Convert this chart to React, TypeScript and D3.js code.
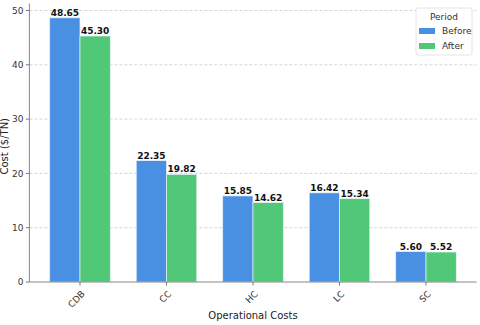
import React from 'react';
import * as d3 from 'd3';

const categories = ['CDB', 'CC', 'HC', 'LC', 'SC'];
const before = [48.65, 22.35, 15.85, 16.42, 5.6];
const after = [45.3, 19.82, 14.62, 15.34, 5.52];
const yTicks = [0, 10, 20, 30, 40, 50];
const seriesNames = ['Before', 'After'];
const colors = ['#4A90E2', '#50C878'];

const W = 480, H = 325;
const m = { left: 29.4, right: 3.4, top: 10.5, bottom: 43 };

const App = () => {
    const x = d3.scalePoint<string>()
        .domain(categories)
        .range([m.left, W - m.right])
        .padding(0.585);
    const step = x.step();
    const bw = step * 0.35;
    const y = d3.scaleLinear().domain([0, 50]).range([H - m.bottom, m.top]);
    const font = 'DejaVu Sans, sans-serif';
    const series = [before, after];

    return (
        <svg width={W} height={H} style={{ position: 'absolute', left: 0, top: 0 }} fontFamily={font}>
            <rect width={W} height={H} fill="#fff" />
            {yTicks.map(t => (
                <g key={t}>
                    {t > 0 && <line x1={m.left} x2={W - m.right} y1={y(t)} y2={y(t)} stroke="#ccc" strokeWidth={0.8} strokeDasharray="3,2" />}
                    <line x1={m.left - 3.5} x2={m.left} y1={y(t)} y2={y(t)} stroke="#555" strokeWidth={0.8} />
                    <text x={m.left - 6} y={y(t)} dy="0.35em" textAnchor="end" fontSize={9} fill="#333">{t}</text>
                </g>
            ))}
            {series.map((vals, s) => vals.map((v, i) => {
                const bx = x(categories[i])! - bw + s * bw;
                return (
                    <g key={`${s}-${i}`}>
                        <rect x={bx} y={y(v)} width={bw} height={y(0) - y(v)} fill={colors[s]} stroke="#e8f0f8" strokeWidth={0.7} />
                        <text x={bx + bw / 2} y={y(v) - 2} textAnchor="middle" fontSize={9} fontWeight="bold" fill="#111">{v.toFixed(2)}</text>
                    </g>
                );
            }))}
            <line x1={m.left} x2={m.left} y1={m.top - 7} y2={y(0)} stroke="#888" strokeWidth={1} />
            <line x1={m.left} x2={W - m.right} y1={y(0)} y2={y(0)} stroke="#888" strokeWidth={1} />
            {categories.map(c => (
                <g key={c}>
                    <line x1={x(c)} x2={x(c)} y1={y(0)} y2={y(0) + 3.5} stroke="#555" strokeWidth={0.8} />
                    <text transform={`translate(${x(c)! + 1},${y(0) + 8}) rotate(-45)`} textAnchor="end" dy="0.7em" fontSize={9} fill="#333">{c}</text>
                </g>
            ))}
            <text x={(m.left + W - m.right) / 2} y={319} textAnchor="middle" fontSize={10} fill="#222">Operational Costs</text>
            <text transform={`translate(8,${(m.top + y(0)) / 2}) rotate(-90)`} textAnchor="middle" fontSize={10} fill="#222">Cost ($/TN)</text>
            <g>
                <rect x={416} y={8} width={56} height={47} rx={2} fill="#fff" fillOpacity={0.9} stroke="#ddd" strokeWidth={0.8} />
                <text x={444} y={20} textAnchor="middle" fontSize={9} fill="#333">Period</text>
                {seriesNames.map((n, i) => (
                    <g key={n}>
                        <rect x={419} y={28 + i * 15} width={16} height={6} fill={colors[i]} />
                        <text x={442} y={31 + i * 15} dy="0.35em" fontSize={9} fill="#333">{n}</text>
                    </g>
                ))}
            </g>
        </svg>
    );
};

export default App;
